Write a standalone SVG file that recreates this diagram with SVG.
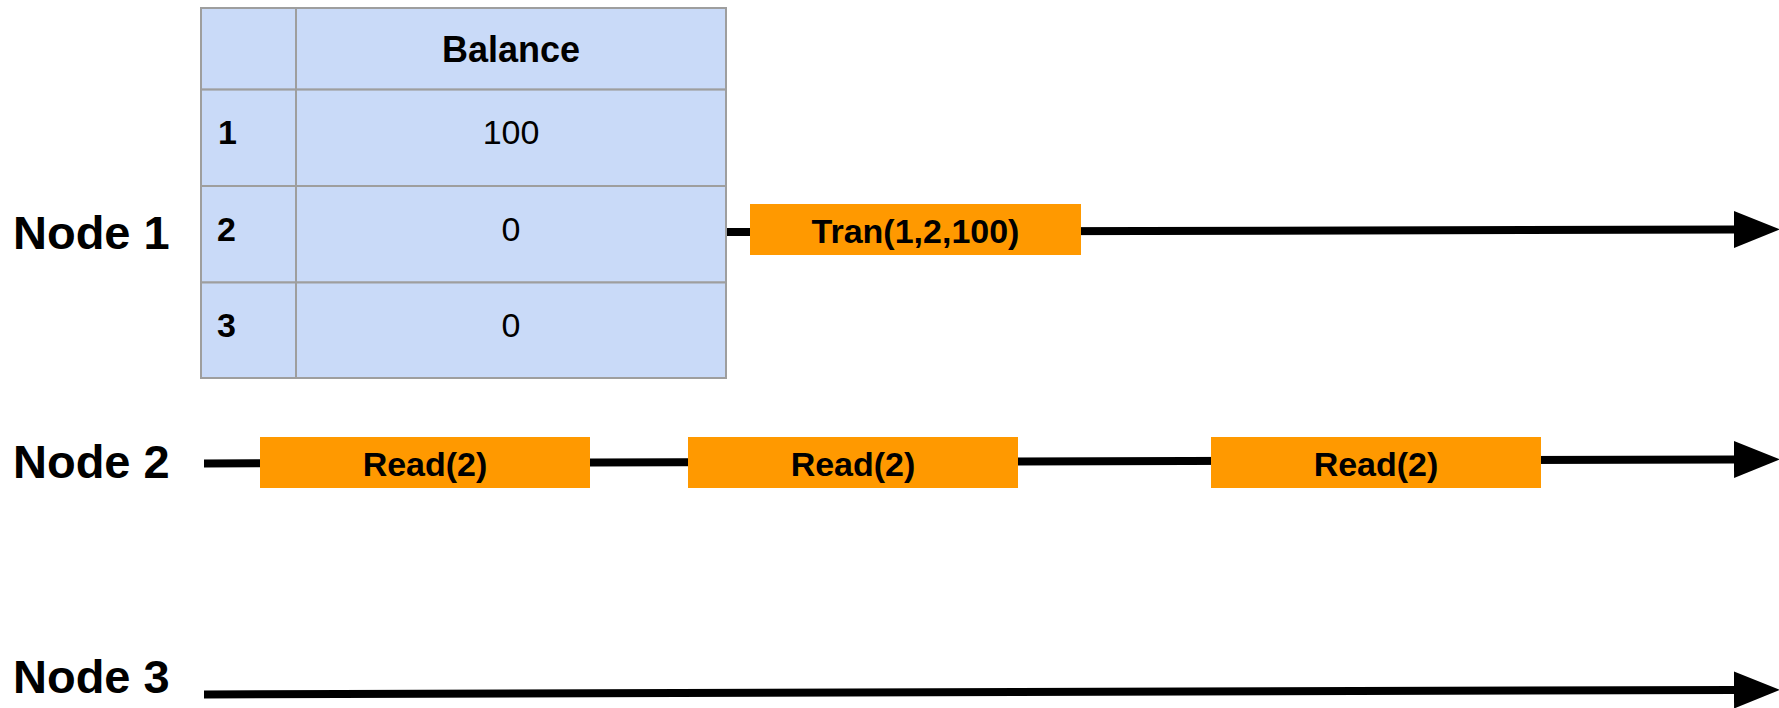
<svg xmlns="http://www.w3.org/2000/svg" width="1779" height="708" viewBox="0 0 1779 708">
  <style>
    .lbl { font-family: "Liberation Sans", Arial, sans-serif; font-weight: bold; font-size: 47px; fill: #000; }
    .cell { fill: #C9DAF8; stroke: #9E9E9E; stroke-width: 2; }
    .th { font-family: "Liberation Sans", Arial, sans-serif; font-weight: bold; font-size: 36px; fill: #000; text-anchor: middle; }
    .rk { font-family: "Liberation Sans", Arial, sans-serif; font-weight: bold; font-size: 34px; fill: #000; }
    .val { font-family: "Liberation Sans", Arial, sans-serif; font-size: 34px; fill: #000; text-anchor: middle; }
    .op { fill: #FF9900; }
    .opt { font-family: "Liberation Sans", Arial, sans-serif; font-weight: bold; font-size: 34px; fill: #000; text-anchor: middle; }
    .timeline { stroke: #000; stroke-width: 8; fill: none; }
  </style>
  <defs>
    <marker id="arrow" markerUnits="userSpaceOnUse" markerWidth="47" markerHeight="38" refX="0" refY="18.5" orient="auto">
      <path d="M0,0 L46,18.5 L0,37 Z" fill="#000"/>
    </marker>
  </defs>
  <rect width="1779" height="708" fill="#fff"/>

  <!-- timelines -->
  <g id="connectors">
    <path class="timeline" d="M727,232 L1734,229.5" marker-end="url(#arrow)"/>
    <path class="timeline" d="M204,463.5 L1734,459.5" marker-end="url(#arrow)"/>
    <path class="timeline" d="M204,694.5 L1734,690" marker-end="url(#arrow)"/>
  </g>

  <!-- node labels -->
  <g id="node1">
    <text class="lbl" x="13" y="249">Node 1</text>
  </g>
  <g id="node2">
    <text class="lbl" x="13" y="478">Node 2</text>
  </g>
  <g id="node3">
    <text class="lbl" x="13" y="692.5">Node 3</text>
  </g>

  <!-- balance table -->
  <g id="balance-table">
    <rect class="cell" x="201" y="8" width="95" height="81.6"/>
    <rect class="cell" x="296" y="8" width="430" height="81.6"/>
    <rect class="cell" x="201" y="89.6" width="95" height="96.4"/>
    <rect class="cell" x="296" y="89.6" width="430" height="96.4"/>
    <rect class="cell" x="201" y="186" width="95" height="96.5"/>
    <rect class="cell" x="296" y="186" width="430" height="96.5"/>
    <rect class="cell" x="201" y="282.5" width="95" height="95.5"/>
    <rect class="cell" x="296" y="282.5" width="430" height="95.5"/>
    <text class="th" x="511" y="62.3">Balance</text>
    <text class="rk" x="218" y="144.3">1</text>
    <text class="val" x="511" y="144.3">100</text>
    <text class="rk" x="217" y="240.7">2</text>
    <text class="val" x="511" y="240.7">0</text>
    <text class="rk" x="217" y="337">3</text>
    <text class="val" x="511" y="337">0</text>
  </g>

  <!-- operations -->
  <g id="tran">
    <rect class="op" x="750" y="204" width="331" height="51"/>
    <text class="opt" x="915.5" y="242.5">Tran(1,2,100)</text>
  </g>
  <g id="read-a">
    <rect class="op" x="260" y="437" width="330" height="51"/>
    <text class="opt" x="425" y="476">Read(2)</text>
  </g>
  <g id="read-b">
    <rect class="op" x="688" y="437" width="330" height="51"/>
    <text class="opt" x="853" y="476">Read(2)</text>
  </g>
  <g id="read-c">
    <rect class="op" x="1211" y="437" width="330" height="51"/>
    <text class="opt" x="1376" y="476">Read(2)</text>
  </g>
</svg>
